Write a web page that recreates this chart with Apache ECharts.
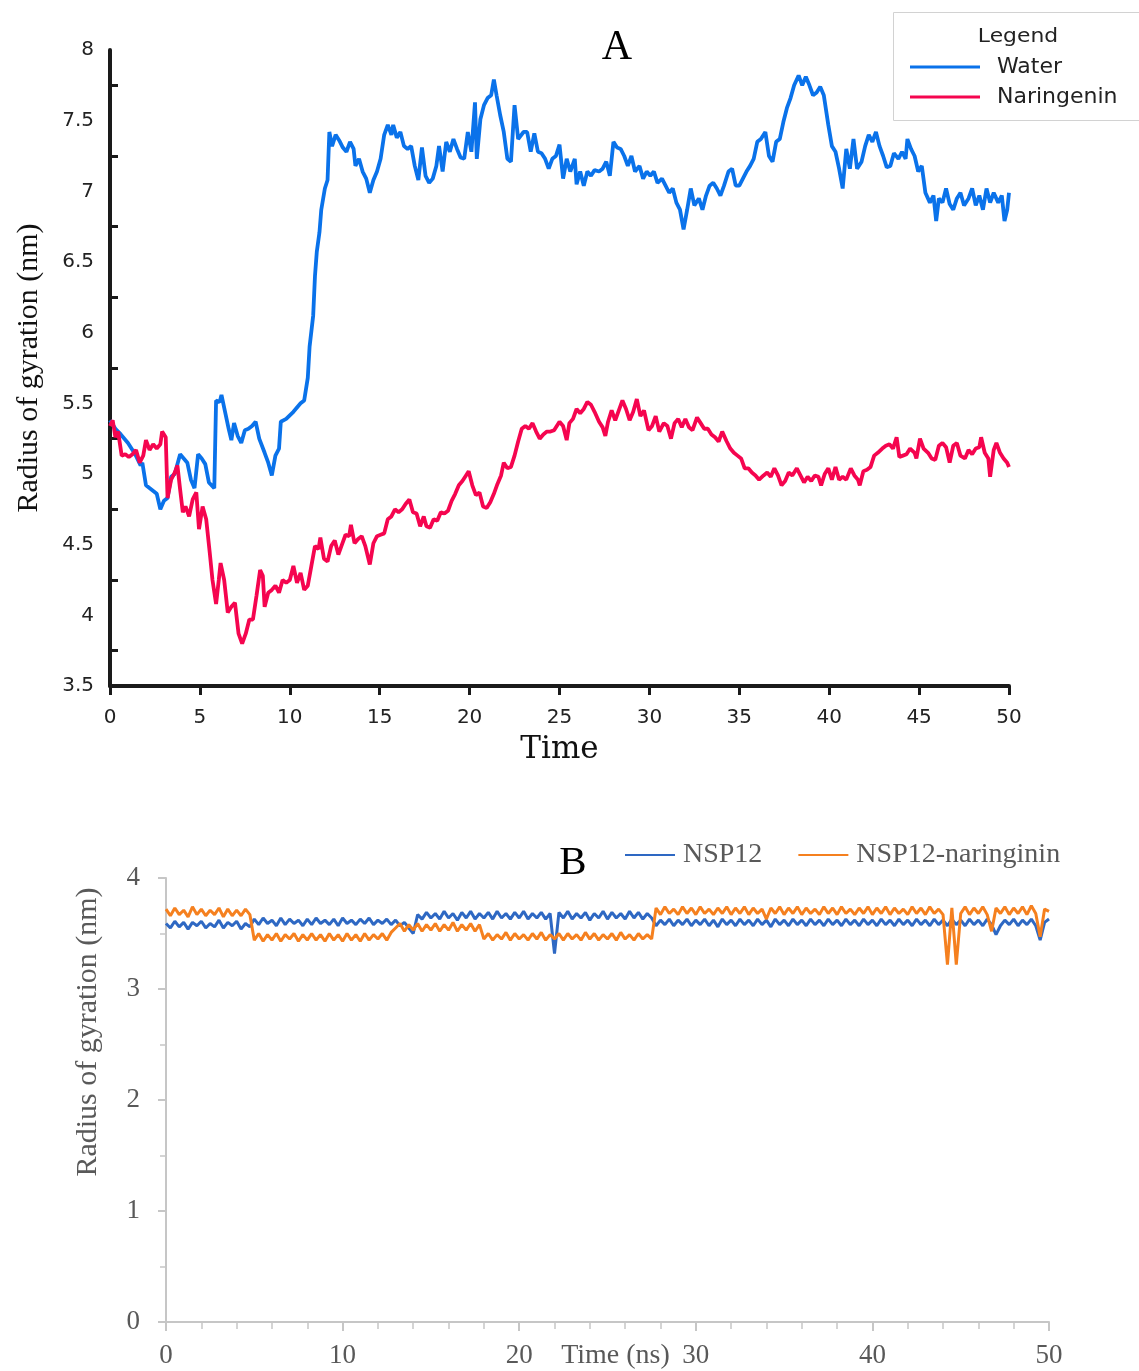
<!DOCTYPE html>
<html><head><meta charset="utf-8">
<script src="https://cdn.jsdelivr.net/npm/echarts@6/dist/echarts.min.js"></script>
<style>html,body{margin:0;padding:0;background:#fff}#c{width:1139px;height:1371px}</style>
</head><body><div id="c"></div>
<script>
// ---------- Panel A : Radius of gyration, Water vs Naringenin ----------
const waterTime=[0,0.3,0.6,1.0,1.4,1.7,1.8,2.0,2.3,2.6,2.8,3.0,3.2,3.4,3.6,3.9,4.1,4.3,4.5,4.7,4.9,5.1,5.3,5.5,5.8,5.9,6.1,6.2,6.4,6.6,6.75,6.9,7.1,7.3,7.5,7.7,7.9,8.1,8.3,8.6,8.8,9.0,9.2,9.4,9.5,9.8,10.2,10.6,10.8,11.0,11.1,11.3,11.4,11.5,11.65,11.75,11.95,12.1,12.2,12.35,12.55,12.75,12.95,13.15,13.35,13.55,13.65,13.85,14.05,14.25,14.45,14.65,14.85,15.05,15.25,15.45,15.65,15.75,15.95,16.15,16.35,16.55,16.75,16.95,17.15,17.35,17.55,17.75,17.95,18.15,18.3,18.5,18.7,18.9,19.1,19.3,19.5,19.7,19.9,20.1,20.3,20.4,20.6,20.8,21.0,21.2,21.35,21.5,21.7,21.9,22.1,22.3,22.5,22.7,23.0,23.2,23.4,23.6,23.8,24.0,24.2,24.4,24.6,24.8,25.0,25.2,25.4,25.6,25.85,25.95,26.15,26.35,26.55,26.75,26.95,27.2,27.4,27.6,27.8,28.0,28.2,28.4,28.6,28.8,29.0,29.2,29.45,29.65,29.85,30.05,30.25,30.45,30.7,30.9,31.1,31.3,31.5,31.7,31.9,32.1,32.3,32.5,32.75,32.95,33.15,33.35,33.55,33.75,33.95,34.15,34.4,34.6,34.8,35.0,35.2,35.4,35.6,35.8,36.0,36.2,36.45,36.65,36.85,37.05,37.25,37.45,37.65,37.85,38.05,38.3,38.5,38.7,38.9,39.1,39.3,39.5,39.7,39.95,40.15,40.35,40.55,40.75,40.95,41.15,41.35,41.55,41.8,42.0,42.2,42.4,42.6,42.8,43.0,43.2,43.4,43.6,43.85,44.05,44.25,44.35,44.55,44.75,44.95,45.15,45.35,45.6,45.8,45.95,46.1,46.3,46.5,46.7,46.9,47.1,47.3,47.5,47.75,47.95,48.15,48.35,48.55,48.75,48.95,49.15,49.4,49.6,49.75,49.9,50.0];
const waterRg=[5.38,5.32,5.28,5.22,5.14,5.06,5.08,4.92,4.89,4.86,4.75,4.81,4.83,4.98,5.0,5.14,5.11,5.08,4.96,4.9,5.14,5.11,5.07,4.94,4.9,5.52,5.51,5.56,5.44,5.32,5.24,5.36,5.27,5.22,5.31,5.32,5.34,5.37,5.25,5.15,5.08,4.99,5.13,5.18,5.37,5.39,5.44,5.5,5.52,5.68,5.9,6.12,6.4,6.57,6.71,6.87,7.02,7.08,7.42,7.32,7.4,7.36,7.31,7.28,7.35,7.3,7.18,7.23,7.14,7.09,6.99,7.08,7.14,7.23,7.4,7.47,7.4,7.47,7.38,7.42,7.32,7.3,7.32,7.18,7.08,7.31,7.11,7.06,7.09,7.18,7.32,7.14,7.35,7.28,7.37,7.3,7.24,7.23,7.42,7.28,7.63,7.23,7.51,7.61,7.66,7.68,7.79,7.68,7.54,7.42,7.23,7.21,7.61,7.37,7.42,7.42,7.28,7.41,7.28,7.27,7.23,7.16,7.23,7.25,7.33,7.09,7.23,7.14,7.23,7.05,7.14,7.04,7.14,7.11,7.15,7.14,7.16,7.21,7.11,7.35,7.31,7.3,7.25,7.18,7.25,7.14,7.18,7.09,7.14,7.11,7.14,7.06,7.09,7.04,6.99,7.02,6.92,6.87,6.73,6.87,7.02,6.9,6.95,6.87,6.97,7.04,7.06,7.02,6.97,7.04,7.14,7.16,7.04,7.04,7.09,7.14,7.18,7.23,7.35,7.37,7.42,7.25,7.21,7.35,7.37,7.49,7.59,7.66,7.75,7.82,7.75,7.81,7.75,7.68,7.7,7.74,7.68,7.47,7.32,7.28,7.16,7.02,7.3,7.16,7.37,7.16,7.21,7.32,7.4,7.35,7.42,7.32,7.25,7.17,7.18,7.27,7.23,7.28,7.23,7.37,7.3,7.25,7.14,7.18,6.99,6.92,6.97,6.79,6.95,6.92,7.02,6.91,6.87,6.95,6.99,6.9,6.95,7.02,6.9,6.97,6.87,7.02,6.92,6.99,6.92,6.97,6.79,6.87,6.99];

const narTime=[0,0.15,0.3,0.45,0.65,0.85,1.05,1.25,1.45,1.65,1.85,2.0,2.2,2.4,2.6,2.8,2.9,3.1,3.2,3.4,3.6,3.75,3.9,4.05,4.2,4.4,4.6,4.8,4.95,5.15,5.35,5.55,5.7,5.9,6.05,6.15,6.35,6.55,6.75,6.95,7.15,7.35,7.55,7.75,7.95,8.15,8.35,8.5,8.6,8.8,9.0,9.2,9.4,9.6,9.8,10.0,10.2,10.4,10.6,10.8,11.0,11.2,11.4,11.6,11.7,11.9,12.1,12.3,12.5,12.7,12.9,13.1,13.3,13.4,13.6,13.8,14.0,14.2,14.45,14.65,14.85,15.05,15.25,15.45,15.65,15.85,16.05,16.25,16.45,16.65,16.85,17.05,17.25,17.45,17.6,17.8,18.0,18.2,18.4,18.6,18.8,19.0,19.2,19.4,19.6,19.8,19.95,20.15,20.35,20.55,20.75,20.95,21.15,21.35,21.55,21.75,21.9,22.1,22.3,22.5,22.7,22.9,23.1,23.3,23.5,23.7,23.9,24.1,24.3,24.5,24.7,25.0,25.2,25.4,25.55,25.75,25.95,26.15,26.35,26.55,26.75,26.95,27.2,27.4,27.55,27.7,27.9,28.1,28.3,28.5,28.7,28.9,29.1,29.3,29.5,29.7,29.95,30.15,30.35,30.55,30.8,31.0,31.2,31.4,31.6,31.8,32.0,32.2,32.4,32.65,32.85,33.05,33.25,33.45,33.65,33.85,34.05,34.3,34.5,34.7,34.9,35.1,35.3,35.5,35.7,35.9,36.1,36.35,36.55,36.75,36.95,37.15,37.35,37.55,37.75,37.95,38.2,38.4,38.6,38.8,39.0,39.2,39.4,39.55,39.75,39.95,40.15,40.35,40.55,40.75,40.95,41.2,41.4,41.6,41.7,41.9,42.1,42.3,42.5,42.7,42.95,43.15,43.35,43.55,43.75,43.9,44.1,44.3,44.5,44.75,44.85,45.05,45.25,45.5,45.7,45.9,46.1,46.3,46.5,46.7,46.9,47.1,47.3,47.55,47.75,47.95,48.15,48.35,48.45,48.65,48.85,48.95,49.15,49.3,49.5,49.7,49.9,50.0];
const narRg=[5.34,5.38,5.26,5.3,5.13,5.14,5.12,5.14,5.17,5.08,5.13,5.24,5.17,5.21,5.18,5.21,5.3,5.26,4.83,4.96,5.01,5.06,4.89,4.73,4.77,4.7,4.82,4.87,4.61,4.77,4.68,4.44,4.25,4.08,4.25,4.37,4.25,4.02,4.06,4.09,3.87,3.8,3.87,3.97,3.97,4.14,4.32,4.28,4.06,4.16,4.18,4.21,4.16,4.25,4.23,4.25,4.35,4.23,4.3,4.18,4.21,4.35,4.49,4.47,4.55,4.4,4.38,4.49,4.53,4.43,4.5,4.57,4.56,4.64,4.51,4.54,4.56,4.49,4.36,4.51,4.56,4.57,4.58,4.68,4.7,4.75,4.73,4.75,4.79,4.82,4.73,4.72,4.63,4.7,4.63,4.62,4.68,4.67,4.73,4.72,4.74,4.81,4.86,4.92,4.95,4.99,5.02,4.92,4.85,4.87,4.77,4.76,4.8,4.86,4.93,4.99,5.08,5.04,5.05,5.13,5.23,5.32,5.34,5.32,5.36,5.3,5.25,5.28,5.3,5.3,5.31,5.37,5.34,5.24,5.36,5.39,5.46,5.43,5.46,5.51,5.49,5.44,5.37,5.33,5.27,5.37,5.45,5.38,5.45,5.52,5.46,5.38,5.44,5.53,5.41,5.45,5.31,5.34,5.41,5.3,5.36,5.34,5.25,5.36,5.39,5.33,5.39,5.33,5.31,5.4,5.36,5.32,5.32,5.28,5.26,5.23,5.3,5.23,5.18,5.15,5.13,5.11,5.04,5.04,5.01,4.99,4.96,4.99,5.01,4.98,5.04,4.99,4.92,4.95,5.01,4.99,5.04,4.99,4.94,4.98,4.95,4.99,4.98,4.92,5.0,5.04,4.96,5.05,4.96,4.98,4.96,5.04,4.99,4.96,4.92,5.02,5.03,5.05,5.13,5.15,5.18,5.2,5.21,5.18,5.26,5.12,5.13,5.14,5.18,5.15,5.11,5.25,5.18,5.15,5.11,5.1,5.2,5.22,5.19,5.08,5.2,5.22,5.13,5.11,5.17,5.14,5.18,5.19,5.26,5.15,5.11,4.98,5.17,5.22,5.15,5.11,5.08,5.05];

// ---------- Panel B : NSP12 vs NSP12-naringinin (one sample every bStep ns) ----------
const bStep=0.25;
const nsp12Rg=[3.59,3.55,3.61,3.56,3.60,3.54,3.60,3.57,3.61,3.55,
3.59,3.56,3.62,3.55,3.60,3.57,3.61,3.54,3.59,3.56,
3.63,3.58,3.64,3.59,3.62,3.57,3.64,3.58,3.63,3.59,
3.62,3.57,3.63,3.58,3.64,3.59,3.62,3.58,3.63,3.57,
3.64,3.59,3.62,3.58,3.63,3.59,3.64,3.58,3.62,3.59,
3.63,3.58,3.62,3.57,3.60,3.55,3.50,3.67,3.63,3.69,
3.64,3.68,3.63,3.70,3.64,3.68,3.62,3.69,3.64,3.70,
3.63,3.68,3.64,3.69,3.63,3.70,3.64,3.68,3.63,3.69,
3.64,3.70,3.63,3.68,3.64,3.69,3.63,3.68,3.32,3.69,
3.64,3.70,3.63,3.68,3.64,3.69,3.62,3.68,3.64,3.70,
3.63,3.69,3.64,3.68,3.63,3.70,3.64,3.69,3.63,3.68,
3.64,3.57,3.62,3.58,3.63,3.57,3.62,3.58,3.63,3.57,
3.62,3.58,3.63,3.57,3.62,3.56,3.63,3.58,3.62,3.57,
3.63,3.58,3.62,3.57,3.63,3.58,3.62,3.56,3.63,3.58,
3.62,3.57,3.63,3.58,3.62,3.57,3.63,3.58,3.62,3.57,
3.63,3.58,3.62,3.57,3.63,3.58,3.62,3.57,3.63,3.58,
3.62,3.57,3.63,3.58,3.62,3.57,3.63,3.58,3.62,3.57,
3.63,3.58,3.62,3.57,3.63,3.58,3.62,3.57,3.63,3.58,
3.62,3.57,3.63,3.58,3.62,3.57,3.63,3.58,3.49,3.57,
3.62,3.58,3.63,3.57,3.62,3.58,3.63,3.57,3.44,3.60,
3.63];
const nsp12NarRg=[3.72,3.66,3.73,3.67,3.71,3.65,3.74,3.67,3.72,3.66,
3.71,3.67,3.73,3.65,3.72,3.66,3.71,3.66,3.72,3.67,
3.44,3.50,3.43,3.49,3.44,3.50,3.43,3.49,3.45,3.50,
3.43,3.49,3.44,3.50,3.44,3.49,3.43,3.50,3.44,3.49,
3.43,3.50,3.44,3.49,3.43,3.50,3.44,3.49,3.45,3.50,
3.44,3.51,3.55,3.59,3.52,3.58,3.53,3.59,3.52,3.58,
3.53,3.59,3.52,3.58,3.53,3.60,3.52,3.58,3.53,3.59,
3.52,3.58,3.45,3.50,3.44,3.49,3.45,3.51,3.44,3.50,
3.45,3.49,3.44,3.50,3.45,3.51,3.44,3.49,3.45,3.50,
3.44,3.50,3.45,3.49,3.44,3.51,3.45,3.50,3.44,3.49,
3.45,3.50,3.44,3.51,3.45,3.49,3.44,3.50,3.45,3.49,
3.45,3.73,3.67,3.74,3.68,3.72,3.67,3.74,3.68,3.73,
3.67,3.74,3.68,3.72,3.67,3.73,3.68,3.74,3.67,3.73,
3.68,3.74,3.67,3.73,3.68,3.72,3.63,3.73,3.68,3.74,
3.67,3.73,3.68,3.74,3.67,3.73,3.68,3.72,3.67,3.74,
3.68,3.73,3.67,3.74,3.68,3.72,3.67,3.73,3.68,3.74,
3.67,3.73,3.68,3.74,3.67,3.73,3.68,3.72,3.67,3.74,
3.68,3.73,3.67,3.74,3.68,3.72,3.67,3.22,3.73,3.22,
3.68,3.74,3.67,3.73,3.68,3.74,3.67,3.52,3.73,3.68,
3.74,3.67,3.73,3.68,3.74,3.67,3.75,3.68,3.47,3.72,
3.70];

const pair=(ts,vs)=>ts.map((t,i)=>[t,vs[i]]);
const stepPair=(vs)=>vs.map((v,i)=>[i*bStep,v]);

const chart=echarts.init(document.getElementById('c'),null,{renderer:'canvas'});
const blk='#1a1a1a', gry='#c6c6c6', gtxt='#595959';
const serif='Liberation Serif';

chart.setOption({
  animation:false,
  backgroundColor:'#fff',
  grid:[
    {left:110,top:50,width:899,height:636,containLabel:false,outerBoundsMode:'none'},
    {left:166,top:878,width:883,height:444,containLabel:false,outerBoundsMode:'none'}
  ],
  xAxis:[
    {type:'value',gridIndex:0,min:0,max:50,interval:5,
     axisLine:{lineStyle:{color:blk,width:4}},
     axisTick:{length:9,lineStyle:{color:blk,width:3}},
     axisLabel:{fontFamily:'DejaVu Sans',fontSize:20,color:'#222',margin:22},
     splitLine:{show:false},
     name:'Time',nameLocation:'middle',nameGap:48,nameMoveOverlap:false,
     nameTextStyle:{fontFamily:'DejaVu Serif',fontSize:31,color:'#111'}},
    {type:'value',gridIndex:1,min:0,max:50,interval:10,
     axisLine:{lineStyle:{color:gry,width:2}},
     axisTick:{length:9,lineStyle:{color:gry,width:2}},
     axisLabel:{fontFamily:serif,fontSize:27,color:gtxt,margin:20},
     splitLine:{show:false},
     name:'Time (ns)',nameLocation:'middle',nameGap:20,nameMoveOverlap:false,
     nameTextStyle:{fontFamily:serif,fontSize:28,color:gtxt,padding:[0,0,0,16]}},
    {type:'value',gridIndex:1,min:0,max:50,interval:10,
     axisLine:{show:false},axisLabel:{show:false},splitLine:{show:false},
     axisTick:{inside:true,length:9,lineStyle:{color:gry,width:2}},
     minorTick:{show:true,splitNumber:5,length:7,lineStyle:{color:gry,width:1.5}}}
  ],
  yAxis:[
    {type:'value',gridIndex:0,min:3.5,max:8,interval:0.5,
     axisLine:{show:true,lineStyle:{color:blk,width:4}},
     axisTick:{show:false,inside:true},
     minorTick:{show:true,splitNumber:2,length:8,lineStyle:{color:blk,width:3}},
     axisLabel:{fontFamily:'DejaVu Sans',fontSize:20,color:'#222',margin:16},
     splitLine:{show:false},minorSplitLine:{show:false},
     name:'Radius of gyration (nm)',nameLocation:'middle',nameGap:66,nameMoveOverlap:false,
     nameTextStyle:{fontFamily:serif,fontSize:30,color:'#111'}},
    {type:'value',gridIndex:1,min:0,max:4,interval:1,
     axisLine:{show:true,lineStyle:{color:gry,width:2}},
     axisTick:{show:true,length:8,lineStyle:{color:gry,width:2}},
     axisLabel:{fontFamily:serif,fontSize:27,color:gtxt,margin:26},
     splitLine:{show:false},
     name:'Radius of gyration (nm)',nameLocation:'middle',nameGap:63,nameMoveOverlap:false,
     nameTextStyle:{fontFamily:serif,fontSize:30,color:gtxt,padding:[0,0,0,136]}},
    {type:'value',gridIndex:1,min:0,max:4,interval:1,
     axisLine:{show:false},axisLabel:{show:false},splitLine:{show:false},
     axisTick:{show:true,inside:true,length:8,lineStyle:{color:gry,width:2}},
     minorTick:{show:true,splitNumber:2,length:6,lineStyle:{color:gry,width:1.5}}}
  ],
  legend:[
    {data:['Water','Naringenin'],left:910,top:56,orient:'vertical',padding:0,
     itemWidth:70,itemHeight:3,itemGap:8,icon:'rect',
     textStyle:{fontFamily:'DejaVu Sans',fontSize:22,color:'#222',padding:[0,0,0,12]}},
    {data:['NSP12','NSP12-naringinin'],left:625,top:841,orient:'horizontal',padding:0,
     itemWidth:50,itemHeight:2,itemGap:36,icon:'rect',
     textStyle:{fontFamily:serif,fontSize:28,color:gtxt,padding:[0,0,0,3]}}
  ],
  graphic:[
    {type:'rect',z:0,shape:{x:893.5,y:12.5,width:260,height:108},
     style:{fill:'#fff',stroke:'#d2d2d2',lineWidth:1}},
    {type:'text',z:1,x:1018,y:37,scaleX:1.15,
     style:{text:'Legend',fontFamily:'DejaVu Sans',fontSize:19,fill:'#222',textAlign:'center',textVerticalAlign:'middle'}},
    {type:'text',z:1,x:617,y:48,
     style:{text:'A',fontFamily:serif,fontSize:42,fill:'#000',textAlign:'center',textVerticalAlign:'middle'}},
    {type:'text',z:1,x:573,y:863,
     style:{text:'B',fontFamily:serif,fontSize:41,fill:'#000',textAlign:'center',textVerticalAlign:'middle'}}
  ],
  series:[
    {name:'Water',type:'line',xAxisIndex:0,yAxisIndex:0,data:pair(waterTime,waterRg),
     showSymbol:false,symbol:'none',color:'#0a72ea',lineStyle:{width:3.8,color:'#0a72ea'}},
    {name:'Naringenin',type:'line',xAxisIndex:0,yAxisIndex:0,data:pair(narTime,narRg),
     showSymbol:false,symbol:'none',color:'#f5054f',lineStyle:{width:3.8,color:'#f5054f'}},
    {name:'NSP12',type:'line',xAxisIndex:1,yAxisIndex:1,data:stepPair(nsp12Rg),
     showSymbol:false,symbol:'none',color:'#2e68c3',lineStyle:{width:3,color:'#2e68c3'}},
    {name:'NSP12-naringinin',type:'line',xAxisIndex:1,yAxisIndex:1,data:stepPair(nsp12NarRg),
     showSymbol:false,symbol:'none',color:'#f5801f',lineStyle:{width:3,color:'#f5801f'}}
  ]
});
</script></body></html>
